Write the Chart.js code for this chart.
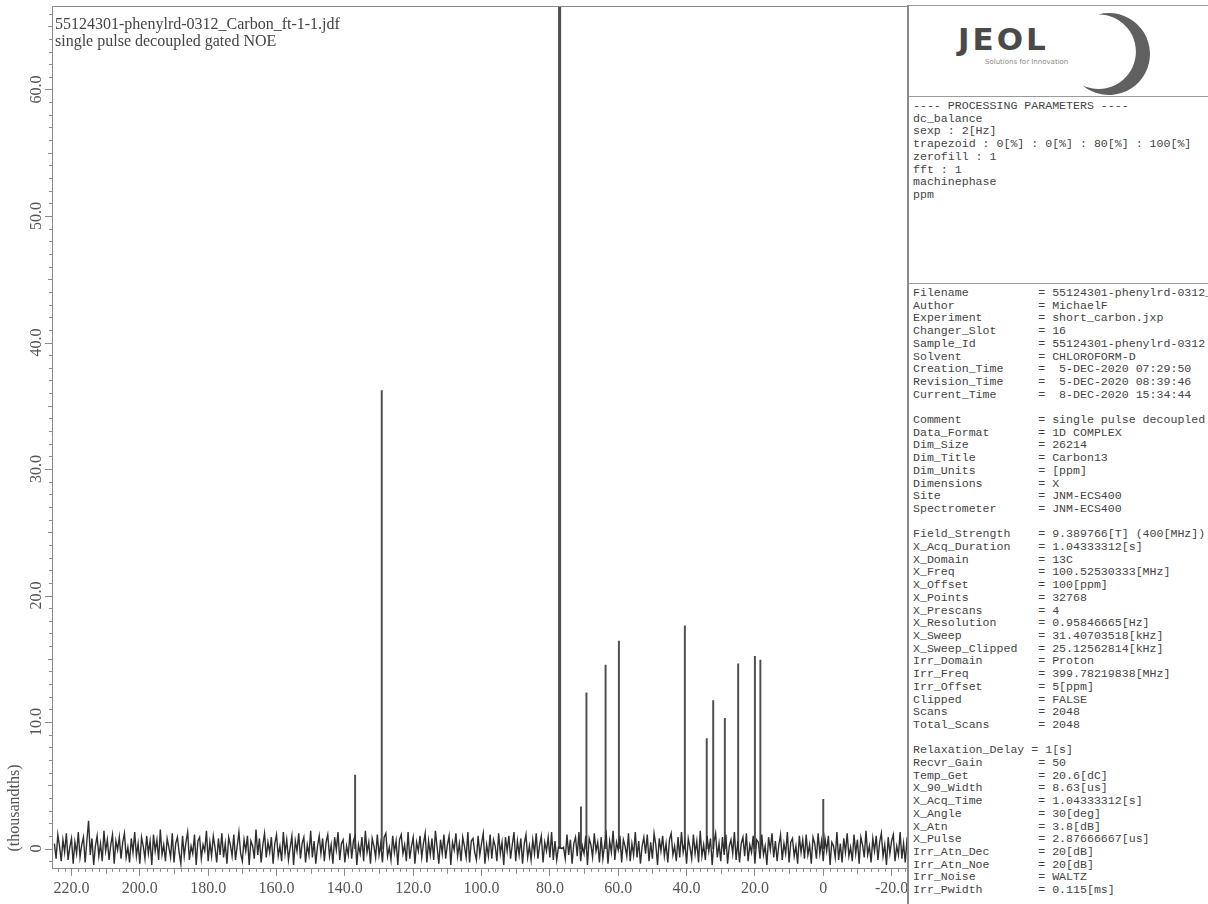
<!DOCTYPE html>
<html>
<head>
<meta charset="utf-8">
<script src="https://cdn.jsdelivr.net/npm/chart.js@4.4.0/dist/chart.umd.min.js"></script>
<style>
  html, body { margin: 0; padding: 0; background: #fff; }
  #wrap { position: relative; width: 1208px; height: 904px; overflow: hidden; }
  #plot { position: absolute; left: 0; top: 0; }
  #head { position: absolute; left: 55px; top: 15px; font: 16px/17px "Liberation Serif", serif; color: #444; }
  #panel { position: absolute; left: 907px; top: 5px; width: 301px; height: 899px; background: #fff;
           border-left: 2px solid #8a8a8a; border-top: 1px solid #9a9a9a; box-sizing: border-box; overflow: hidden; }
  #logo { height: 90px; border-bottom: 1px solid #9a9a9a; }
  .txt { font: 11.6px/12.7px "Liberation Mono", monospace; color: #444; white-space: pre; padding: 3px 0 0 4px; overflow: hidden; }
  #proc { height: 183px; border-bottom: 1px solid #9a9a9a; }
</style>
</head>
<body>
<div id="wrap">
  <canvas id="plot" width="1208" height="904"></canvas>
  <div id="head">55124301-phenylrd-0312_Carbon_ft-1-1.jdf<br>single pulse decoupled gated NOE</div>
  <div id="panel">
    <div id="logo">
      <svg width="299" height="90" viewBox="0 0 299 90">
        <text x="49" y="44" font-family="DejaVu Sans" font-weight="bold" font-size="31" fill="#4a4a4a" letter-spacing="3">JEOL</text>
        <text x="76" y="58" font-family="DejaVu Sans" font-size="7" fill="#888">Solutions for Innovation</text>
        <path d="M189.4 8.4 A41 41 0 1 1 173.6 79.4 A37.3 37.3 0 1 0 189.4 8.4 Z" fill="#606060"/>
      </svg>
    </div>
    <div id="proc" class="txt"></div>
    <div id="meta" class="txt"></div>
  </div>
</div>
<script>
// x axis (ppm) tick labels and y axis (thousands) tick labels
const xTickValues = [220, 200, 180, 160, 140, 120, 100, 80, 60, 40, 20, 0, -20];
const yTickValues = [0, 10, 20, 30, 40, 50, 60];

// resolved peaks: shift (ppm) and height (thousands)
const peakPpm    = [137.0, 129.2, 77.3, 77.16, 77.0, 70.9, 69.3, 63.7, 59.8, 40.5, 34.1, 32.2, 28.8, 24.9, 20.0, 18.4, 0.0];
const peakHeight = [5.8, 36.2, 90, 90, 90, 3.3, 12.3, 14.5, 16.4, 17.6, 8.7, 11.7, 10.3, 14.6, 15.2, 14.9, 3.9];

// baseline noise, one sample every 0.5 ppm from 225 down to -25 (thousands)
const noiseStart = 225;
const noiseStep = 0.5;
const noiseValues = [
  0.4,-0.8,1.1,0.2,-1.0,0.7,-0.3,1.2,-0.9,0.1,0.8,-1.2,0.5,-0.4,1.3,-0.7,0.3,0.9,-1.1,0.6,
  2.2,-0.5,0.8,-1.3,0.2,1.0,-0.6,0.4,-1.0,1.4,-0.2,0.7,-0.9,0.3,1.1,-1.2,0.6,-0.1,0.9,-0.8,
  0.5,1.2,-0.7,0.1,-1.1,0.8,-0.3,1.3,-0.6,0.4,-1.2,0.9,0.2,-0.8,1.0,-0.4,0.6,-1.3,1.1,-0.2,
  0.7,-0.9,1.5,-0.5,0.3,-1.0,0.8,0.1,-0.7,1.2,-1.1,0.4,0.9,-0.3,-1.2,1.0,-0.6,0.5,1.3,-0.9,
  0.2,-0.4,1.1,-1.3,0.6,0.9,-0.8,0.3,-0.2,1.4,-1.0,0.5,-0.6,1.0,0.1,-1.1,0.8,-0.5,1.2,-0.7,
  0.4,-1.2,0.9,0.3,-0.6,1.1,-0.9,0.2,1.3,-0.4,-1.0,0.7,-0.2,1.0,-1.3,0.6,0.2,-0.8,1.5,-0.5,
  0.8,-1.1,0.3,1.2,-0.7,0.5,-0.3,0.9,-1.2,0.4,1.1,-0.6,0.2,-1.0,1.3,-0.4,0.7,-0.9,0.1,1.0,
  -1.3,0.6,-0.2,1.2,-0.8,0.4,0.9,-1.1,0.3,-0.5,1.4,-0.7,0.6,-1.2,0.2,1.0,-0.4,0.8,-1.0,0.5,
  1.1,-0.6,0.3,-1.2,0.9,-0.1,1.3,-0.9,0.4,0.7,-1.1,0.2,-0.5,1.2,-0.8,0.6,1.0,-1.3,0.3,-0.4,
  0.9,-1.0,1.4,-0.3,0.5,-1.2,0.8,0.2,-0.7,1.1,-0.5,0.4,-1.1,0.9,1.2,-0.6,0.1,-0.9,1.0,-0.3,
  0.6,-1.3,0.7,1.1,-0.4,0.3,-1.0,1.3,-0.8,0.2,0.9,-1.2,0.5,-0.2,1.0,-0.7,0.4,1.2,-1.1,0.6,
  -0.5,0.8,-0.9,1.4,0.1,-1.2,0.7,-0.4,1.1,-0.8,0.3,1.0,-1.3,0.5,-0.1,1.2,-0.6,0.4,-1.0,0.9,
  0.2,-0.7,1.3,-1.1,0.6,0.8,-0.3,-0.9,1.0,-0.5,0.4,1.2,-1.2,0.3,-0.6,1.1,-0.8,0.7,0.2,-1.0,
  1.2,-0.4,0.5,-1.3,0.9,-0.2,1.0,-0.8,0.3,1.3,-1.0,0.6,-0.5,0.8,-1.2,0.4,1.1,-0.7,0.2,-0.9,
  0.7,-0.4,1.2,-0.8,0.3,1.0,-1.1,0.5,-0.2,0.9,-0.7,1.3,-0.9,0.6,-0.9,0.1,0.1,0.0,0.1,-0.8,
  1.1,-0.5,0.7,-1.2,0.4,0.9,-0.6,1.3,-1.0,0.2,-0.4,1.0,-1.3,0.8,0.3,-0.7,1.2,-0.2,0.5,-1.1,
  0.9,-0.8,0.3,1.1,-1.2,0.6,-0.3,1.4,-0.9,0.5,-0.1,1.0,-1.1,0.7,0.2,-0.6,1.2,-1.0,0.4,-0.5,
  1.3,-0.7,0.6,-1.2,0.2,0.9,-0.4,1.1,-1.0,0.5,-0.8,1.2,0.3,-1.3,0.8,-0.2,1.0,-0.6,0.4,-1.1,
  0.7,1.2,-0.5,0.2,-1.0,0.9,-0.7,1.3,-0.3,0.5,-1.2,0.8,0.1,-0.8,1.1,-0.4,0.6,-1.1,1.4,-0.6,
  0.3,-0.9,1.0,-0.2,0.8,-1.3,0.5,1.2,-0.7,0.4,-1.0,0.9,-0.5,1.1,-1.2,0.2,0.7,-0.4,1.3,-0.9,
  0.6,-1.1,0.4,0.9,-0.6,1.2,-1.0,0.3,-0.3,1.0,-1.2,0.7,0.5,-0.8,1.1,-0.5,0.2,-1.3,0.9,-0.1,
  1.2,-0.7,0.6,-1.0,0.3,1.1,-0.9,0.4,-0.4,1.3,-1.1,0.5,0.8,-0.6,0.2,-1.2,1.0,-0.3,0.7,-0.8,
  1.1,-0.5,0.3,-1.2,0.9,0.4,-0.8,1.2,-0.4,0.6,-1.0,0.8,-0.2,1.0,-1.3,0.5,0.2,-0.7,1.3,-0.9,
  0.4,-1.1,0.8,-0.3,1.2,-0.6,0.1,-1.0,1.1,-0.4,0.7,-1.2,0.9,0.3,-0.7,1.4,-0.5,0.2,-1.1,0.8,
  -0.2,1.0,-0.9,0.5,1.2,-0.6,0.3,-1.3,0.9,-0.4,0.6,1.1,-1.0,0.2,-0.5,1.3,-0.8,0.4,-1.1,0.7,
  0.3
];

const procLines = [
  '---- PROCESSING PARAMETERS ----',
  'dc_balance',
  'sexp : 2[Hz]',
  'trapezoid : 0[%] : 0[%] : 80[%] : 100[%]',
  'zerofill : 1',
  'fft : 1',
  'machinephase',
  'ppm'
];

const metaLines = [
  ['Filename', '55124301-phenylrd-0312_Carbon_ft-1-1.jdf'],
  ['Author', 'MichaelF'],
  ['Experiment', 'short_carbon.jxp'],
  ['Changer_Slot', '16'],
  ['Sample_Id', '55124301-phenylrd-0312'],
  ['Solvent', 'CHLOROFORM-D'],
  ['Creation_Time', ' 5-DEC-2020 07:29:50'],
  ['Revision_Time', ' 5-DEC-2020 08:39:46'],
  ['Current_Time', ' 8-DEC-2020 15:34:44'],
  null,
  ['Comment', 'single pulse decoupled gated NOE'],
  ['Data_Format', '1D COMPLEX'],
  ['Dim_Size', '26214'],
  ['Dim_Title', 'Carbon13'],
  ['Dim_Units', '[ppm]'],
  ['Dimensions', 'X'],
  ['Site', 'JNM-ECS400'],
  ['Spectrometer', 'JNM-ECS400'],
  null,
  ['Field_Strength', '9.389766[T] (400[MHz])'],
  ['X_Acq_Duration', '1.04333312[s]'],
  ['X_Domain', '13C'],
  ['X_Freq', '100.52530333[MHz]'],
  ['X_Offset', '100[ppm]'],
  ['X_Points', '32768'],
  ['X_Prescans', '4'],
  ['X_Resolution', '0.95846665[Hz]'],
  ['X_Sweep', '31.40703518[kHz]'],
  ['X_Sweep_Clipped', '25.12562814[kHz]'],
  ['Irr_Domain', 'Proton'],
  ['Irr_Freq', '399.78219838[MHz]'],
  ['Irr_Offset', '5[ppm]'],
  ['Clipped', 'FALSE'],
  ['Scans', '2048'],
  ['Total_Scans', '2048'],
  null,
  ['Relaxation_Delay', '1[s]'],
  ['Recvr_Gain', '50'],
  ['Temp_Get', '20.6[dC]'],
  ['X_90_Width', '8.63[us]'],
  ['X_Acq_Time', '1.04333312[s]'],
  ['X_Angle', '30[deg]'],
  ['X_Atn', '3.8[dB]'],
  ['X_Pulse', '2.87666667[us]'],
  ['Irr_Atn_Dec', '20[dB]'],
  ['Irr_Atn_Noe', '20[dB]'],
  ['Irr_Noise', 'WALTZ'],
  ['Irr_Pwidth', '0.115[ms]']
];

document.getElementById('proc').textContent = procLines.join('\n');
document.getElementById('meta').textContent = metaLines.map(l => {
  if (!l) return '';
  const key = l[0].length > 15 ? l[0] + ' ' : l[0].padEnd(18);
  return key + '= ' + l[1];
}).join('\n');

const axisColor = '#8a8a8a';
const labelColor = '#555';

const peakPoints = peakPpm.map((p, i) => ({ x: p, y: peakHeight[i] }));
const noisePoints = noiseValues.map((v, i) => ({ x: noiseStart - i * noiseStep, y: v }));

// minor ticks, rotated y labels, top border
const decor = {
  id: 'decor',
  afterDraw(chart) {
    const { ctx, chartArea: a, scales: { x, y } } = chart;
    ctx.save();
    ctx.strokeStyle = axisColor;
    ctx.lineWidth = 1;
    ctx.beginPath();
    ctx.moveTo(a.left, a.top + 0.5);
    ctx.lineTo(a.right, a.top + 0.5);
    for (let p = -24; p <= 224; p += 2) {
      if (p % 20 === 0) continue;
      const px = Math.round(x.getPixelForValue(p)) + 0.5;
      const len = p % 10 === 0 ? 5 : 3;
      ctx.moveTo(px, a.bottom);
      ctx.lineTo(px, a.bottom + len);
    }
    for (let v = -1; v <= 66; v++) {
      const py = Math.round(y.getPixelForValue(v)) + 0.5;
      const len = v % 10 === 0 ? 7 : (v % 5 === 0 ? 4 : 3);
      ctx.moveTo(a.left - len, py);
      ctx.lineTo(a.left, py);
    }
    ctx.stroke();

    ctx.fillStyle = labelColor;
    ctx.font = '16px "Liberation Serif", serif';
    ctx.textAlign = 'center';
    ctx.textBaseline = 'middle';
    yTickValues.forEach(v => {
      ctx.save();
      ctx.translate(37, y.getPixelForValue(v));
      ctx.rotate(-Math.PI / 2);
      ctx.fillText(v === 0 ? '0' : v.toFixed(1), 0, 0);
      ctx.restore();
    });
    ctx.save();
    ctx.translate(15, 808);
    ctx.rotate(-Math.PI / 2);
    ctx.fillText('(thousandths)', 0, 0);
    ctx.restore();
    ctx.restore();
  }
};

new Chart(document.getElementById('plot'), {
  type: 'line',
  data: {
    datasets: [
      {
        type: 'bar',
        data: peakPoints,
        backgroundColor: '#4e4e4e',
        barThickness: 1.3,
        order: 2
      },
      {
        type: 'line',
        data: noisePoints,
        borderColor: '#2e2e2e',
        borderWidth: 1.4,
        pointRadius: 0,
        tension: 0,
        order: 1
      }
    ]
  },
  options: {
    responsive: false,
    animation: false,
    devicePixelRatio: 1,
    layout: { padding: { left: 52, top: 6, right: 300, bottom: 3 } },
    plugins: { legend: { display: false }, tooltip: { enabled: false } },
    scales: {
      x: {
        type: 'linear',
        reverse: true,
        offset: false,
        min: -24.8,
        max: 225.7,
        afterBuildTicks: axis => { axis.ticks = xTickValues.map(v => ({ value: v })); },
        ticks: {
          autoSkip: false,
          maxRotation: 0,
          padding: 3,
          color: labelColor,
          font: { family: '"Liberation Serif", serif', size: 16 },
          callback: v => v === 0 ? '0' : Number(v).toFixed(1)
        },
        grid: { drawOnChartArea: false, offset: false, tickLength: 7, color: axisColor },
        border: { color: axisColor }
      },
      y: {
        min: -1.6,
        max: 66.6,
        ticks: { display: false },
        grid: { display: false, drawTicks: false },
        border: { color: axisColor }
      }
    }
  },
  plugins: [decor]
});
</script>
</body>
</html>
